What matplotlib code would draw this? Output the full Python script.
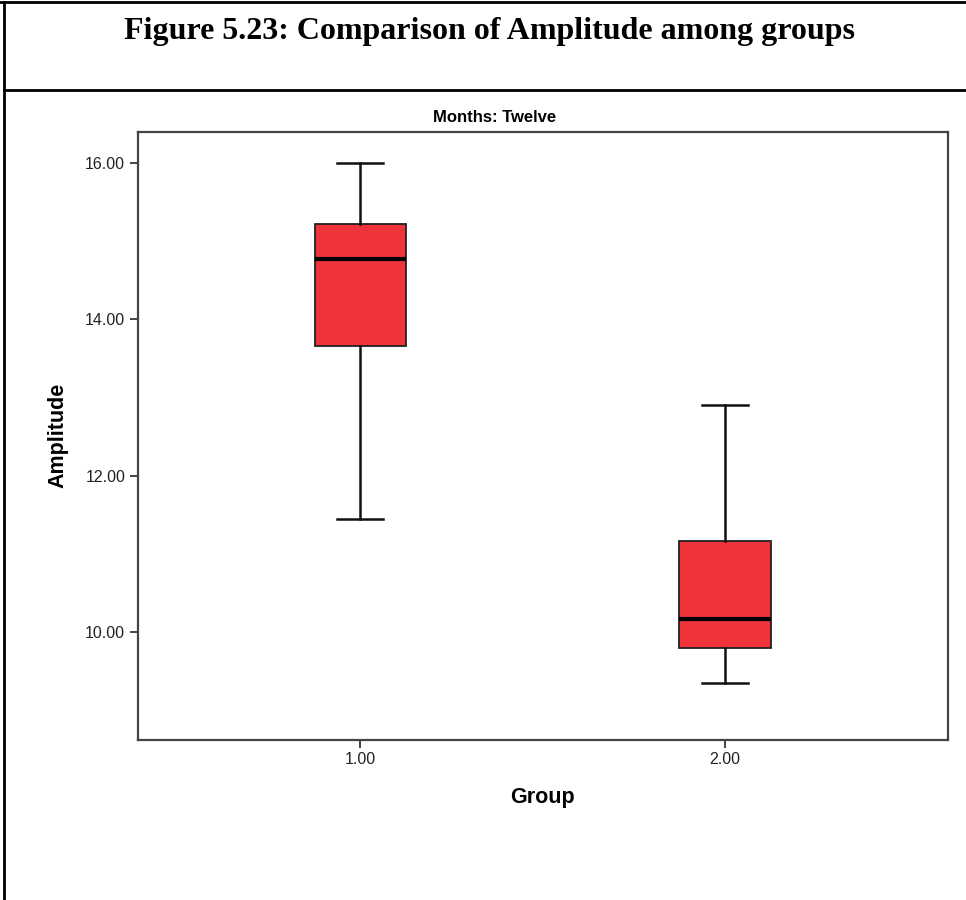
import matplotlib
matplotlib.use("Agg")
import matplotlib.pyplot as plt
from matplotlib.lines import Line2D

# Summary statistics of Amplitude per group (twelve-month follow-up)
groups = ["1.00", "2.00"]
positions = [1.0, 2.0]
whisker_low = [11.45, 9.35]
q1 = [13.66, 9.79]
median = [14.77, 10.17]
q3 = [15.22, 11.16]
whisker_high = [16.00, 12.91]

y_ticks = [10.0, 12.0, 14.0, 16.0]
y_tick_labels = ["10.00", "12.00", "14.00", "16.00"]

box_color = "#EF333B"
frame_color = "#444444"

stats = [
    dict(label=g, whislo=lo, q1=a, med=m, q3=b, whishi=hi, fliers=[])
    for g, lo, a, m, b, hi in zip(groups, whisker_low, q1, median, q3, whisker_high)
]

fig = plt.figure(figsize=(9.66, 9.0), dpi=100)
fig.patch.set_facecolor("white")

ax = fig.add_axes([0.1425, 0.1778, 0.981 - 0.1425, 0.8537 - 0.1778])
ax.bxp(
    stats,
    positions=positions,
    widths=0.25,
    capwidths=0.125,
    patch_artist=True,
    showfliers=False,
    boxprops=dict(facecolor=box_color, edgecolor="#222222", linewidth=1.3),
    medianprops=dict(color="black", linewidth=3.0),
    whiskerprops=dict(color="#111111", linewidth=1.8),
    capprops=dict(color="#111111", linewidth=1.8),
)

ax.set_xlim(0.39, 2.61)
ax.set_ylim(8.62, 16.40)
ax.set_xticks(positions)
ax.set_xticklabels(groups)
ax.set_yticks(y_ticks)
ax.set_yticklabels(y_tick_labels)

for side in ["left", "right", "top", "bottom"]:
    ax.spines[side].set_color(frame_color)
    ax.spines[side].set_linewidth(1.6)

ax.tick_params(axis="both", direction="out", length=6, width=1.4,
               color=frame_color, labelsize=11.5, labelcolor="#222222", pad=3)
for lab in ax.get_xticklabels() + ax.get_yticklabels():
    lab.set_family("Liberation Sans")

ax.set_xlabel("Group", fontsize=15.5, fontweight="bold", family="Liberation Sans", labelpad=14)
ax.set_ylabel("Amplitude", fontsize=15.5, fontweight="bold", family="Liberation Sans", labelpad=12)

# Panel caption above the plot frame
fig.text(0.512, 1 - 117 / 900, "Months: Twelve", ha="center", va="center",
         fontsize=12, fontweight="bold", family="Liberation Sans")

# Figure heading in a ruled header box
fig.text(489 / 966, 1 - 31 / 900, "Figure 5.23: Comparison of Amplitude among groups",
         ha="center", va="center", fontsize=23, fontweight="bold", family="Liberation Serif")

border = dict(color="black", linewidth=2.0, transform=fig.transFigure, figure=fig)
fig.lines.extend([
    Line2D([0, 1], [1 - 2 / 900, 1 - 2 / 900], **border),
    Line2D([4 / 966, 4 / 966], [0, 1 - 2 / 900], **border),
    Line2D([4 / 966, 1], [1 - 90 / 900, 1 - 90 / 900], **border),
])

fig.savefig("out.png", dpi=100, facecolor="white")
